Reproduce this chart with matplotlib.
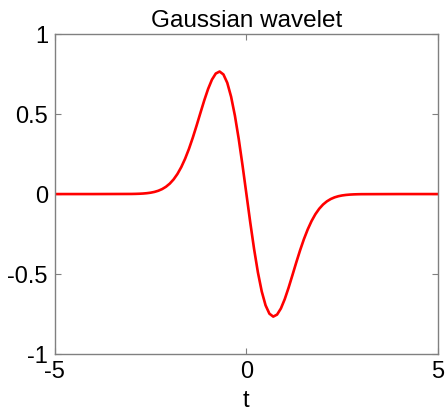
import numpy as np
import matplotlib.pyplot as plt

plt.rcParams['font.family'] = ['Liberation Sans', 'DejaVu Sans']

# first-derivative Gaussian wavelet, values sampled on t in [-3, 3]
t_right = [0.0, 0.1, 0.2, 0.3, 0.4, 0.5, 0.6, 0.7, 0.8, 0.9, 1.0,
           1.1, 1.2, 1.3, 1.4, 1.5, 1.6, 1.7, 1.8, 1.9, 2.0,
           2.1, 2.2, 2.3, 2.4, 2.5, 2.6, 2.7, 2.8, 2.9, 3.0, 4.0, 5.0]
psi_right = [0.0, -0.1769, -0.3433, -0.4898, -0.6089, -0.6957, -0.7478, -0.7661,
             -0.7536, -0.7153, -0.6572, -0.5860, -0.5079, -0.4285, -0.3523,
             -0.2824, -0.2210, -0.1688, -0.1259, -0.0918, -0.0654, -0.0456,
             -0.0311, -0.0207, -0.0135, -0.0086, -0.0054, -0.0033, -0.0020,
             -0.0012, -0.0007, 0.0, 0.0]

# odd function: mirror to the negative side
t = np.concatenate([-np.array(t_right[:0:-1]), t_right])
psi = np.concatenate([-np.array(psi_right[:0:-1]), psi_right])

fig = plt.figure(figsize=(4.46, 4.16), dpi=100)
ax = fig.add_axes([0.123, 0.149, 0.859, 0.769])
ax.plot(t, psi, color='red', linewidth=1.9)

ax.set_xlim(-5, 5)
ax.set_ylim(-1, 1)
ax.set_xticks([-5, 0, 5])
ax.set_yticks([-1, -0.5, 0, 0.5, 1])
ax.set_yticklabels(['-1', '-0.5', '0', '0.5', '1'])
ax.set_xticklabels(['-5', '0', '5'])
ax.tick_params(direction='in', length=4, width=0.8, color='#808080',
               top=True, right=True, labelsize=17, pad=5)
for s in ax.spines.values():
    s.set_color('#808080')
    s.set_linewidth(1.0)

ax.set_title('Gaussian wavelet', fontsize=17.5, pad=5)
ax.set_xlabel('t', fontsize=17, labelpad=5)

fig.savefig('out.png', dpi=100)
